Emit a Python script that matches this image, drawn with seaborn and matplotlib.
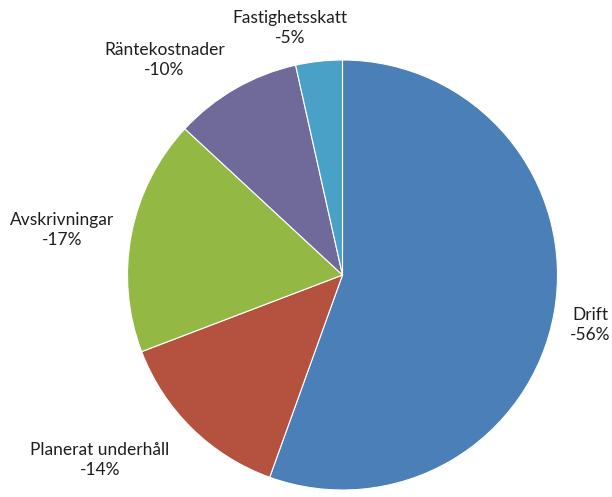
import matplotlib
matplotlib.use("Agg")
import matplotlib.pyplot as plt
import seaborn as sns

categories = ["Drift", "Planerat underhåll", "Avskrivningar", "Räntekostnader", "Fastighetsskatt"]
values = [55.5, 13.7, 17.7, 9.6, 3.5]
pct_labels = ["-56%", "-14%", "-17%", "-10%", "-5%"]
colors = ["#4a7fb7", "#b5513f", "#93b843", "#6f6a9a", "#4aa1c8"]

sns.set_theme(style="white")
plt.rcParams["font.family"] = ["Lato", "DejaVu Sans"]

fig = plt.figure(figsize=(6.12, 4.97), dpi=100)
ax = fig.add_axes([0, 0, 1, 1])
ax.pie(values, colors=colors, startangle=90, counterclock=False,
       radius=1.0, center=(0, 0),
       wedgeprops=dict(edgecolor="white", linewidth=0.8))

# label positions (text only)
label_pos = [(1.151, -0.233), (-1.128, -0.86), (-1.305, 0.209), (-0.828, 1.0), (-0.244, 1.149)]
for cat, pct, (x, y) in zip(categories, pct_labels, label_pos):
    ax.text(x, y, f"{cat}\n{pct}", ha="center", va="center", fontsize=12.5,
            color="#1e1e1e", linespacing=1.3)

s = 215.0
ax.set_xlim(-342.5 / s, (612 - 342.5) / s)
ax.set_ylim(-222 / s, (497 - 222) / s)
ax.set_aspect("equal")
ax.axis("off")
fig.savefig("out.png", dpi=100)
